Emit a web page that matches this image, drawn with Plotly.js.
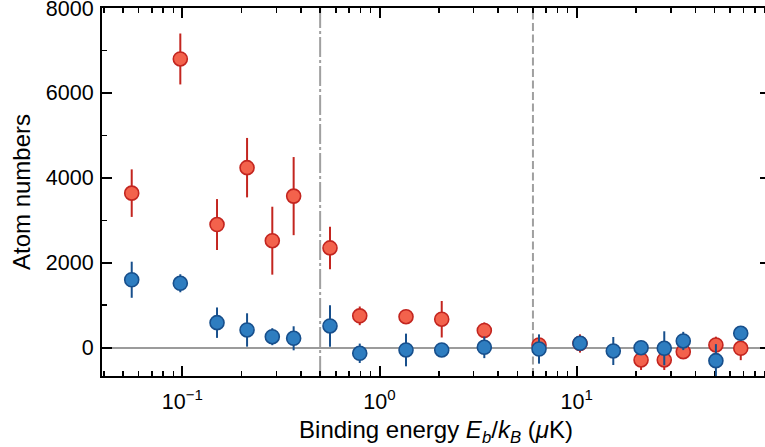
<!DOCTYPE html>
<html>
<head>
<meta charset="utf-8">
<script src="https://cdn.plot.ly/plotly-3.0.1.min.js"></script>
<style>
  html, body { margin: 0; padding: 0; overflow: hidden; background: #ffffff; }
  #chart { width: 772px; height: 447px; }
</style>
</head>
<body>
<div id="chart"></div>
<script>
// Binding energy (uK) for each measurement
const redX  = [0.0554, 0.0977, 0.150, 0.213, 0.286, 0.367, 0.561, 0.794, 1.363, 2.068, 3.40, 6.44, 10.39, 21.2, 27.8, 34.7, 50.8, 67.9];
const redY  = [3640, 6800, 2900, 4240, 2520, 3570, 2350, 750, 730, 670, 405, 64, 99, -290, -290, -94, 64, -14];
const redErr = [560, 600, 600, 700, 800, 920, 500, 220, 100, 430, 190, 100, 215, 235, 235, 155, 195, 280];

const blueX = [0.0554, 0.0977, 0.150, 0.213, 0.286, 0.367, 0.561, 0.794, 1.363, 2.068, 3.40, 6.44, 10.39, 15.33, 21.2, 27.8, 34.7, 50.8, 67.9];
const blueY = [1600, 1517, 589, 417, 259, 221, 511, -132, -54, -54, 9, -31, 104, -78, 0, -14, 158, -306, 339];
const blueErr = [425, 212, 358, 393, 200, 283, 491, 228, 385, 100, 255, 345, 100, 330, 100, 400, 215, 390, 100];

// Reference energies marked with vertical guide lines
const guideDashDot = 0.5;
const guideDashed = 6;

// Axis ticks
const xTickVals = [0.1, 1, 10];
const xTickText = ['10<sup>\u22121</sup>', '10<sup>0</sup>', '10<sup>1</sup>'];
const xMinorVals = [0.04, 0.05, 0.06, 0.07, 0.08, 0.09, 0.2, 0.3, 0.4, 0.5, 0.6, 0.7, 0.8, 0.9,
                    2, 3, 4, 5, 6, 7, 8, 9, 20, 30, 40, 50, 60, 70, 80, 90];
const yTickVals = [0, 2000, 4000, 6000, 8000];
const yTickText = ['0', '2000', '4000', '6000', '8000'];

const FONT = 'Liberation Sans, Arial, Helvetica, sans-serif';

const red = {
  x: redX, y: redY, type: 'scatter', mode: 'markers',
  marker: { size: 14, color: '#f3624c', line: { color: '#c3251f', width: 1.6 } },
  error_y: { type: 'data', array: redErr, visible: true, thickness: 2, width: 0, color: '#c3251f' },
  hoverinfo: 'x+y', showlegend: false
};
const blue = {
  x: blueX, y: blueY, type: 'scatter', mode: 'markers',
  marker: { size: 14, color: '#2e7dc0', line: { color: '#174f8c', width: 1.6 } },
  error_y: { type: 'data', array: blueErr, visible: true, thickness: 2, width: 0, color: '#174f8c' },
  hoverinfo: 'x+y', showlegend: false
};

const layout = {
  width: 772, height: 447,
  margin: { l: 102, r: 2, t: 8, b: 71 },
  paper_bgcolor: '#ffffff', plot_bgcolor: '#ffffff',
  font: { family: FONT, color: '#000000', size: 21 },
  xaxis: {
    type: 'log',
    range: [-1.4072, 1.9802],
    tickmode: 'array', tickvals: xTickVals, ticktext: xTickText,
    ticks: 'inside', ticklen: 10, tickwidth: 2, tickcolor: '#000',
    minor: { tickmode: 'array', tickvals: xMinorVals, ticks: 'inside', ticklen: 5, tickwidth: 1.5, tickcolor: '#000', showgrid: false },
    showline: true, linewidth: 2, linecolor: '#000', mirror: 'ticks',
    showgrid: false, zeroline: false,
    tickfont: { family: FONT, size: 21.5 },
    ticklabelstandoff: 5,
    ticklabeloverflow: 'allow',
    title: { text: 'Binding energy <i>E</i><sub><i>b</i></sub>/<i>k</i><sub><i>B</i></sub> (<i>\u03bc</i>K)', font: { family: FONT, size: 24 }, standoff: 12 }
  },
  yaxis: {
    range: [-667, 8000.5],
    tickmode: 'array', tickvals: yTickVals, ticktext: yTickText,
    ticks: 'inside', ticklen: 10, tickwidth: 2, tickcolor: '#000',
    minor: { dtick: 1000, ticks: 'inside', ticklen: 5, tickwidth: 1.5, tickcolor: '#000', showgrid: false },
    showline: true, linewidth: 2, linecolor: '#000', mirror: 'ticks',
    showgrid: false,
    zeroline: true, zerolinecolor: '#9b9b9b', zerolinewidth: 2.2,
    tickfont: { family: FONT, size: 21.5 },
    ticklabelstandoff: 2,
    ticklabeloverflow: 'allow',
    title: { text: 'Atom numbers', font: { family: FONT, size: 24 }, standoff: 8 }
  },
  shapes: [
    { type: 'line', xref: 'x', yref: 'paper', x0: guideDashDot, x1: guideDashDot, y0: 0, y1: 1,
      line: { color: '#a0a0a0', width: 2, dash: '20px,3px,3px,3px' }, layer: 'below' },
    { type: 'line', xref: 'x', yref: 'paper', x0: guideDashed, x1: guideDashed, y0: 0, y1: 1,
      line: { color: '#a0a0a0', width: 2, dash: '8px,3.5px' }, layer: 'below' }
  ]
};

Plotly.newPlot('chart', [red, blue], layout, { displayModeBar: false, staticPlot: true });
</script>
</body>
</html>
